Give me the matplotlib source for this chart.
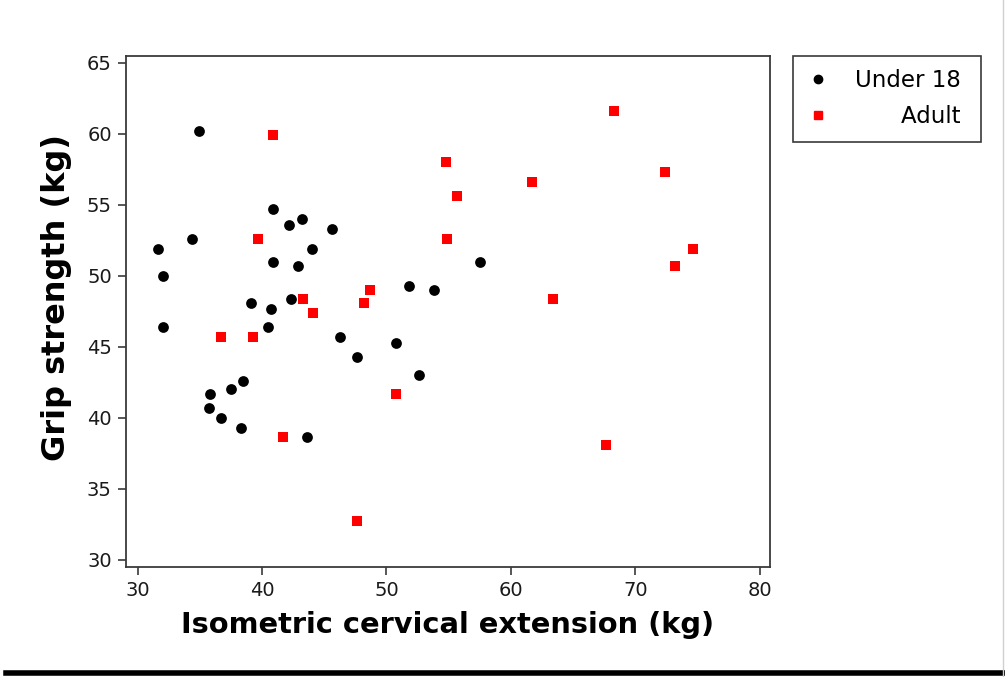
import matplotlib
matplotlib.use("Agg")
import matplotlib.pyplot as plt
from matplotlib.lines import Line2D

# values
under18_x = [34.9, 40.85, 42.2, 43.2, 45.6, 34.4, 31.6, 44.0, 40.9, 42.9, 32.0, 51.8, 53.8, 57.5,
             39.1, 40.7, 42.3, 32.0, 40.5, 46.3, 50.8, 47.6, 52.6, 38.5, 37.5, 35.8, 35.7, 36.7,
             38.3, 43.6]
under18_y = [60.2, 54.7, 53.6, 54.0, 53.3, 52.6, 51.9, 51.9, 51.0, 50.7, 50.0, 49.3, 49.0, 51.0,
             48.1, 47.7, 48.4, 46.4, 46.4, 45.7, 45.3, 44.3, 43.0, 42.6, 42.0, 41.7, 40.7, 40.0,
             39.3, 38.65]

adult_x = [40.85, 54.8, 39.7, 54.9, 48.7, 43.3, 48.2, 44.1, 36.7, 39.3, 50.8, 41.7, 47.65,
           68.3, 72.4, 55.7, 61.7, 74.6, 73.2, 63.4, 67.65]
adult_y = [59.9, 58.0, 52.6, 52.6, 49.0, 48.4, 48.1, 47.4, 45.7, 45.7, 41.7, 38.65, 32.75,
           61.6, 57.3, 55.6, 56.6, 51.9, 50.7, 48.4, 38.1]

x_ticks = [30, 40, 50, 60, 70, 80]
y_ticks = [30, 35, 40, 45, 50, 55, 60, 65]

plt.rcParams['font.family'] = ['DejaVu Sans']
spine_col = '#3a3a3a'

fig = plt.figure(figsize=(10.05, 6.77), dpi=100)
ax = fig.add_axes([0.1251, 0.1625, 0.6411, 0.755])

ax.scatter(under18_x, under18_y, s=60, marker='o', color='black', linewidths=0, label='Under 18')
ax.scatter(adult_x, adult_y, s=48, marker='s', color='#ff0000', linewidths=0, label='Adult')

ax.set_xlim(29.04, 80.83)
ax.set_ylim(29.5, 65.49)
ax.set_xticks(x_ticks)
ax.set_yticks(y_ticks)
ax.tick_params(direction='out', length=6, width=1.2, color=spine_col, labelsize=14,
               labelcolor='#1a1a1a', pad=4)
for sp in ax.spines.values():
    sp.set_color(spine_col)
    sp.set_linewidth(1.3)

ax.set_xlabel('Isometric cervical extension (kg)', fontsize=20.8, fontweight='bold', labelpad=8)
ax.set_ylabel('Grip strength (kg)', fontsize=23, fontweight='bold')
ax.yaxis.set_label_coords(-0.083, 0.528)

leg_handles = [
    Line2D([], [], marker='o', color='black', linestyle='none', markersize=6),
    Line2D([], [], marker='s', color='#ff0000', linestyle='none', markersize=6),
]
leg = fig.legend(leg_handles, ['Under 18 ', 'Adult '], loc='upper left',
                 bbox_to_anchor=(793 / 1005, 1 - 56 / 677), fontsize=16.5,
                 frameon=True, fancybox=False, edgecolor=spine_col, framealpha=1,
                 handlelength=1.02, handletextpad=1.1, borderpad=0.58, labelspacing=0.57,
                 borderaxespad=0)
leg.get_frame().set_linewidth(1.2)

# right-align the legend labels like the original
fig.canvas.draw()
rend = fig.canvas.get_renderer()
widths = [t.get_window_extent(rend).width for t in leg.get_texts()]
rows = leg._legend_handle_box.get_children()[0].get_children()
for row, w in zip(rows, widths):
    row.sep += (max(widths) - w) * 72 / fig.dpi

# black rule at the bottom and faint edge on the right
fig.add_artist(Line2D([0.006, 1.0], [4 / 677, 4 / 677], color='black', linewidth=4,
                      transform=fig.transFigure))
fig.add_artist(Line2D([0.9985, 0.9985], [0, 1], color='#d0d0d0', linewidth=1,
                      transform=fig.transFigure))

fig.savefig('out.png', dpi=100)
